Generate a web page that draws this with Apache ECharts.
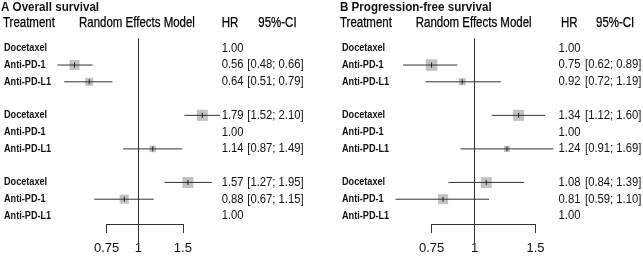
<!DOCTYPE html>
<html>
<head>
<meta charset="utf-8">
<script src="https://cdn.jsdelivr.net/npm/echarts@6/dist/echarts.min.js"></script>
<style>html,body{margin:0;padding:0;background:#fff}#c{width:643px;height:260px}</style>
</head>
<body>
<div id="c"></div>
<script>
// ---- data ----
const treatments = ['Docetaxel', 'Anti-PD-1', 'Anti-PD-L1'];
const panelTitles = ['A Overall survival', 'B Progression-free survival'];
const headers = ['Treatment', 'Random Effects Model', 'HR', '95%-CI'];
// rows: group 1 (ref Docetaxel), group 2 (ref Anti-PD-1), group 3 (ref Anti-PD-L1)
const osHR    = [1.00, 0.56, 0.64, 1.79, 1.00, 1.14, 1.57, 0.88, 1.00];
const osLow   = [null, 0.48, 0.51, 1.52, null, 0.87, 1.27, 0.67, null];
const osHigh  = [null, 0.66, 0.79, 2.10, null, 1.49, 1.95, 1.15, null];
const osWeight  = [null, 10, 8, 11, null, 6.5, 11, 9, null];
const pfsHR   = [1.00, 0.75, 0.92, 1.34, 1.00, 1.24, 1.08, 0.81, 1.00];
const pfsLow  = [null, 0.62, 0.72, 1.12, null, 0.91, 0.84, 0.59, null];
const pfsHigh = [null, 0.89, 1.19, 1.60, null, 1.69, 1.39, 1.10, null];
const pfsWeight = [null, 11.5, 7, 11, null, 6, 11, 10, null];
const axisTicks = [0.75, 1, 1.5];

// ---- layout ----
const panels = [
  {hr: osHR, lo: osLow, hi: osHigh, w: osWeight, one: 138.3, k: 110, min: 0.4, max: 2.5,
   labelX: 4, hrX: 221.7, ciX: 247.3, titleX: 1, hx: [3, 79, 221.7, 258.3]},
  {hr: pfsHR, lo: pfsLow, hi: pfsHigh, w: pfsWeight, one: 474.7, k: 150, min: 0.5, max: 2.0,
   labelX: 342, hrX: 558.5, ciX: 585, titleX: 340, hx: [340, 415.7, 561, 596]}
];
function px(p, v) { return p.one + p.k * Math.log(v); }

const grids = [], xAxes = [], yAxes = [], series = [], graphics = [];
const LINE = '#333333', BOX = '#c2c2c2', TXT = '#111111';

panels.forEach((p, pi) => {
  const left = px(p, p.min), right = px(p, p.max);
  grids.push({left: left, width: right - left, top: 38.2, bottom: 15});
  xAxes.push({type: 'log', gridIndex: 2 * pi, min: p.min, max: p.max, show: false});
  yAxes.push({type: 'value', gridIndex: 2 * pi, min: -0.6, max: 11.73, inverse: true, show: false});
  // bracket axis
  const bl = px(p, axisTicks[0]), br = px(p, axisTicks[2]);
  grids.push({left: bl, width: br - bl, top: 200, height: 24});
  xAxes.push({type: 'log', gridIndex: 2 * pi + 1, min: axisTicks[0], max: axisTicks[2],
    position: 'bottom',
    axisLine: {show: true, lineStyle: {color: LINE, width: 1}},
    axisTick: {show: true, length: 9, inside: false, customValues: axisTicks, lineStyle: {color: LINE, width: 1}},
    axisLabel: {show: true, customValues: axisTicks, margin: 18, color: TXT,
      fontFamily: 'Liberation Sans', fontSize: 13, showMinLabel: true, showMaxLabel: true,
      formatter: v => String(+(+v).toFixed(2))},
    splitLine: {show: false}});
  yAxes.push({type: 'value', gridIndex: 2 * pi + 1, show: false});

  const data = p.hr.map((v, i) => [v, Math.floor(i / 3) * 4 + (i % 3)]);
  series.push({
    type: 'custom', xAxisIndex: 2 * pi, yAxisIndex: 2 * pi, clip: false, silent: true,
    data: data,
    renderItem: function (params, api) {
      const i = params.dataIndex;
      const hr = p.hr[i], lo = p.lo[i], hi = p.hi[i], w = p.w[i];
      const c = api.coord([hr, api.value(1)]);
      const y = c[1];
      const ch = [];
      if (lo != null) {
        const a = api.coord([lo, api.value(1)]), b = api.coord([hi, api.value(1)]);
        ch.push({type: 'rect', shape: {x: c[0] - w / 2, y: y - w / 2, width: w, height: w}, style: {fill: BOX}});
        ch.push({type: 'line', shape: {x1: a[0], y1: y, x2: b[0], y2: y}, style: {stroke: LINE, lineWidth: 1}});
        ch.push({type: 'line', shape: {x1: c[0], y1: y - 2.5, x2: c[0], y2: y + 2.5}, style: {stroke: '#222', lineWidth: 1}});
      }
      ch.push({type: 'text', x: p.labelX, y: y, scaleX: 0.83,
        style: {text: treatments[i % 3], font: 'bold 11px "Liberation Sans"', fill: TXT, verticalAlign: 'middle'}});
      ch.push({type: 'text', x: p.hrX, y: y, scaleX: 0.9,
        style: {text: hr.toFixed(2), font: '12.5px "Liberation Sans"', fill: TXT, verticalAlign: 'middle'}});
      if (lo != null) {
        ch.push({type: 'text', x: p.ciX, y: y, scaleX: 0.9,
          style: {text: '[' + lo.toFixed(2) + '; ' + hi.toFixed(2) + ']', font: '12.5px "Liberation Sans"', fill: TXT, verticalAlign: 'middle'}});
      }
      return {type: 'group', children: ch};
    },
    markLine: {silent: true, symbol: 'none', label: {show: false},
      lineStyle: {color: LINE, width: 1, type: 'solid'}, data: [{xAxis: 1}]}
  });

  graphics.push({type: 'text', x: p.titleX, y: 7, scaleX: 0.86,
    style: {text: panelTitles[pi], font: 'bold 13.5px "Liberation Sans"', fill: TXT, verticalAlign: 'middle'}});
  headers.forEach((h, hi) => {
    graphics.push({type: 'text', x: p.hx[hi], y: 23.5, scaleX: 0.82,
      style: {text: h, font: '14px "Liberation Sans"', fill: '#000', stroke: '#000', lineWidth: 0.25, verticalAlign: 'middle'}});
  });
});

const chart = echarts.init(document.getElementById('c'), null, {renderer: 'canvas'});
chart.setOption({
  animation: false,
  backgroundColor: '#fff',
  grid: grids, xAxis: xAxes, yAxis: yAxes, series: series, graphic: graphics
});
</script>
</body>
</html>
